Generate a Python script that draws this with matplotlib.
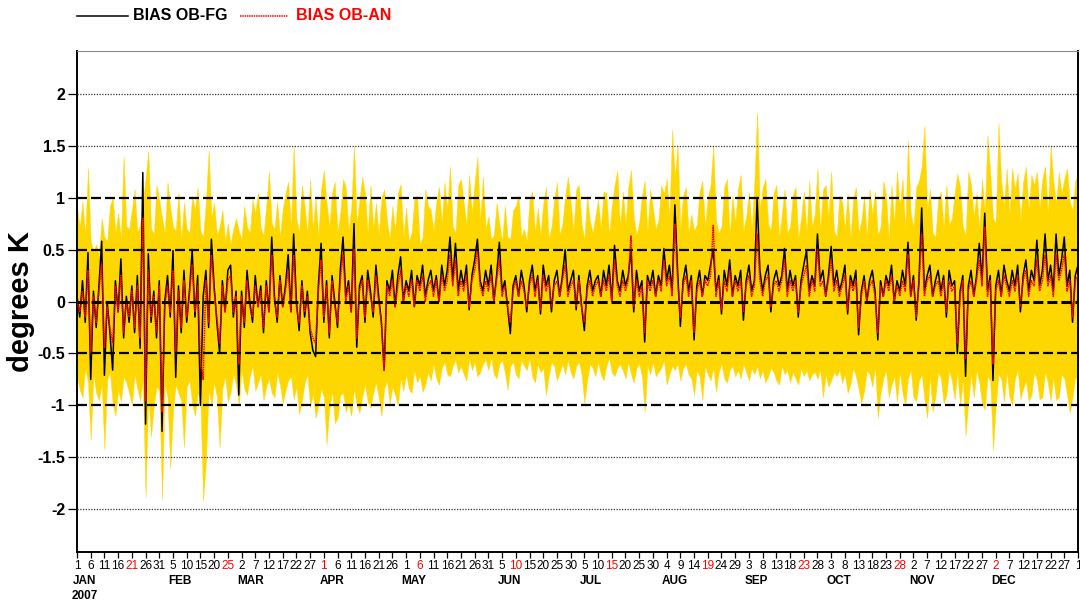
"""Daily bias OB-FG / OB-AN with spread band, 2007."""
import numpy as np
import pandas as pd
import matplotlib
matplotlib.use("Agg")
import matplotlib.pyplot as plt
from matplotlib.lines import Line2D

plt.rcParams["font.family"] = ["Liberation Sans", "DejaVu Sans"]

START = "2007-01-01"

# daily values in hundredths of K, 1 Jan 2007 .. 1 Jan 2008, ten per row
BIAS_FG = [
    5, -15, 20, -20, 47, -75, 10, -25, 15, 58,
    -71, 0, -30, -66, 20, -10, 41, -35, 5, -20,
    15, -30, 25, -45, 124, -118, 46, -20, 10, -35,
    20, -125, 0, 25, -15, 49, -73, 15, -30, 30,
    -20, 10, 50, -15, 25, -100, 5, 30, -25, 60,
    15, -20, -50, 20, -10, 30, 35, -15, 10, -90,
    10, -25, 30, 0, -20, 25, -5, 15, -30, 20,
    -10, 62, 5, -20, 25, -5, 15, 45, -10, 65,
    0, -28, 20, -15, 10, -30, -47, -53, 15, 56,
    -20, 20, -35, 25, 0, -25, 30, 62, 5, 20,
    -10, 75, -44, 15, 25, -20, 30, 10, -15, 35,
    5, -20, -66, 20, 10, 30, -5, 25, 43, 0,
    20, 10, 30, -5, 25, 15, 35, 5, 20, 30,
    10, 25, 0, 35, 15, 30, 62, 20, 56, 10,
    30, 15, 35, -8, 25, 40, 60, 20, 10, 30,
    15, 35, 0, 25, 57, 10, 20, -5, -31, 15,
    25, 5, 30, 15, -10, 20, 35, 10, 25, -12,
    35, 15, 25, -10, 20, 30, 5, 25, 50, 10,
    20, 30, -8, 25, -5, -28, 15, 30, 10, 20,
    25, 5, 30, 15, 35, 0, 54, 20, 10, 30,
    15, 25, 50, -10, 30, 10, 20, -39, 25, 15,
    30, 5, 25, 15, 51, 20, 35, 10, 93, 30,
    -24, 20, 35, 10, 25, -37, 15, 30, 5, 25,
    20, 35, 50, 10, 25, -12, 30, 15, 40, 5,
    25, 15, 30, -18, 20, 35, 10, 20, 100, 30,
    10, 25, 35, -10, 20, 30, 15, 25, 51, 10,
    30, 15, 25, -15, 20, 35, 49, 10, 25, 15,
    65, 20, 30, 5, 25, 53, 15, 30, 10, 20,
    35, -12, 25, 15, 30, -32, 10, 25, 0, 20,
    30, 10, -37, 20, 5, 25, 15, 35, 0, 20,
    10, 30, 15, 57, 5, 25, -18, 20, 90, 10,
    25, 35, 5, 20, 30, 10, 25, -15, 30, 15,
    20, -50, 10, 25, -72, 15, 30, 5, 25, 56,
    20, 85, 10, 25, -76, 15, 30, 5, 35, 20,
    10, 30, 15, 35, -10, 25, 40, 10, 30, 20,
    59, 15, 30, 65, 20, 35, 10, 65, 25, 40,
    62, 15, 30, -20, 25, 35,
]

BIAS_AN = [
    0, -10, 10, -15, 30, -50, 5, -20, 10, 35,
    -45, -5, -25, -40, 15, -10, 25, -30, 0, -15,
    10, -25, 15, -35, 80, -95, 30, -15, 5, -30,
    15, -106, -5, 15, -10, 30, -50, 10, -25, 20,
    -15, 5, 35, -10, 15, -55, -75, 20, -20, 45,
    10, -15, -40, 15, -10, 20, 25, -10, 5, -60,
    5, -20, 20, -5, -15, 15, -5, 10, -25, 15,
    -10, 45, 0, -15, 20, -5, 10, 30, -10, 45,
    -5, -20, 15, -10, 5, -25, -35, -40, 10, 40,
    -15, 15, -30, 20, -5, -20, 20, 45, 0, 15,
    -10, 50, -35, 10, 20, -15, 20, 5, -10, 25,
    0, -20, -67, 15, 5, 20, -5, 15, 30, 0,
    15, 5, 20, -5, 20, 10, 25, 0, 15, 20,
    5, 20, 0, 25, 10, 20, 45, 15, 40, 5,
    20, 10, 25, -5, 20, 30, 50, 15, 5, 20,
    10, 25, 0, 20, 40, 5, 15, -5, -20, 10,
    20, 5, 20, 10, -5, 15, 25, 5, 20, -8,
    25, 10, 20, -5, 15, 20, 5, 20, 35, 5,
    15, 20, -5, 20, -5, -20, 10, 20, 5, 15,
    20, 5, 20, 10, 25, 0, 40, 15, 5, 20,
    10, 20, 63, -5, 20, 5, 15, -30, 20, 10,
    20, 5, 20, 10, 40, 15, 25, 5, 75, 20,
    -15, 15, 25, 5, 20, -30, 10, 20, 5, 20,
    15, 25, 73, 5, 20, -8, 20, 10, 30, 5,
    20, 10, 20, -10, 15, 25, 5, 15, 65, 20,
    5, 20, 25, -5, 15, 20, 10, 20, 40, 5,
    20, 10, 20, -10, 15, 25, 35, 5, 20, 10,
    50, 15, 20, 5, 20, 40, 10, 20, 5, 15,
    25, -8, 20, 10, 20, -25, 5, 20, 0, 15,
    20, 5, -30, 15, 5, 20, 10, 25, 0, 15,
    5, 20, 10, 45, 5, 20, -15, 15, 65, 5,
    20, 25, 5, 15, 20, 5, 20, -10, 20, 10,
    15, -40, 5, 20, -55, 10, 20, 5, 20, 40,
    15, 72, 5, 20, -60, 10, 20, 5, 25, 15,
    5, 20, 10, 25, -5, 20, 30, 5, 20, 15,
    40, 10, 20, 45, 15, 25, 5, 45, 20, 30,
    45, 10, 20, -15, 20, 25,
]

# upper / lower edge of the yellow spread band
SPREAD_HI = [
    90, 72, 96, 64, 128, 58, 48, 55, 45, 80,
    62, 58, 92, 100, 66, 85, 60, 140, 72, 70,
    88, 108, 66, 74, 95, 118, 145, 70, 65, 112,
    98, 80, 66, 115, 90, 72, 68, 105, 60, 95,
    70, 66, 102, 88, 110, 68, 62, 96, 145, 82,
    95, 64, 72, 88, 58, 75, 55, 70, 80, 68,
    60, 92, 72, 66, 98, 85, 105, 70, 64, 92,
    125, 75, 70, 96, 62, 88, 104, 115, 72, 150,
    80, 66, 112, 92, 65, 118, 70, 100, 62, 108,
    126, 95, 72, 105, 115, 66, 85, 118, 110, 68,
    90, 150, 75, 98, 120, 104, 66, 112, 70, 95,
    64, 100, 108, 78, 60, 92, 68, 104, 113, 62,
    90, 58, 66, 98, 102, 55, 62, 108, 92, 88,
    68, 96, 110, 75, 115, 88, 130, 72, 66, 112,
    118, 95, 74, 122, 85, 115, 139, 78, 120, 70,
    82, 60, 64, 95, 75, 58, 92, 62, 60, 88,
    92, 102, 62, 70, 58, 98, 106, 66, 90, 64,
    94, 110, 60, 72, 98, 115, 64, 75, 102, 120,
    96, 68, 108, 112, 74, 60, 102, 78, 66, 82,
    98, 70, 106, 104, 64, 92, 112, 126, 72, 106,
    75, 110, 126, 82, 64, 76, 102, 116, 66, 108,
    90, 70, 78, 112, 104, 118, 80, 165, 120, 150,
    70, 102, 110, 66, 84, 68, 74, 106, 116, 72,
    100, 112, 150, 78, 66, 72, 110, 118, 64, 102,
    76, 108, 122, 68, 82, 105, 70, 115, 182, 88,
    110, 118, 75, 68, 104, 112, 62, 84, 108, 66,
    72, 102, 110, 60, 80, 106, 66, 116, 72, 84,
    128, 70, 108, 112, 82, 125, 68, 62, 102, 96,
    70, 104, 60, 98, 110, 66, 78, 102, 62, 108,
    84, 106, 64, 72, 116, 102, 60, 112, 76, 125,
    92, 118, 70, 155, 84, 72, 110, 116, 130, 169,
    88, 108, 66, 62, 98, 106, 70, 112, 74, 80,
    104, 123, 110, 72, 64, 125, 112, 82, 104, 70,
    118, 86, 160, 124, 80, 76, 172, 116, 92, 128,
    84, 128, 108, 124, 78, 115, 130, 88, 122, 112,
    125, 90, 118, 130, 84, 150, 116, 94, 124, 104,
    118, 128, 96, 88, 116, 122,
]

SPREAD_LO = [
    -72, -85, -92, -64, -78, -133, -70, -88, -95, -80,
    -142, -75, -68, -98, -110, -85, -96, -72, -78, -88,
    -100, -70, -84, -95, -76, -188, -90, -130, -100, -82,
    -86, -190, -78, -92, -160, -105, -80, -88, -95, -140,
    -82, -76, -98, -110, -88, -94, -192, -155, -85, -100,
    -78, -92, -140, -84, -72, -96, -88, -70, -80, -100,
    -66, -84, -90, -72, -62, -86, -78, -70, -95, -82,
    -74, -88, -92, -68, -80, -98, -86, -76, -72, -94,
    -82, -108, -96, -78, -70, -102, -88, -112, -100, -84,
    -92, -137, -104, -86, -117, -112, -90, -88, -106, -98,
    -110, -84, -100, -107, -92, -80, -96, -102, -88, -78,
    -92, -110, -84, -76, -98, -82, -90, -100, -74, -86,
    -70, -84, -88, -66, -78, -72, -87, -80, -68, -76,
    -60, -74, -80, -64, -58, -70, -72, -62, -56, -68,
    -62, -70, -76, -54, -66, -58, -72, -68, -60, -56,
    -66, -54, -70, -74, -60, -56, -68, -85, -62, -58,
    -70, -74, -56, -62, -66, -54, -72, -78, -60, -68,
    -64, -90, -72, -58, -62, -76, -68, -60, -70, -56,
    -68, -74, -62, -58, -70, -98, -76, -60, -64, -72,
    -58, -70, -76, -62, -54, -68, -72, -64, -60, -66,
    -74, -58, -70, -78, -64, -60, -72, -106, -62, -70,
    -58, -72, -68, -64, -56, -80, -70, -62, -66, -60,
    -76, -64, -60, -70, -74, -90, -66, -72, -95, -62,
    -70, -76, -64, -87, -68, -60, -74, -78, -66, -62,
    -72, -66, -74, -60, -68, -76, -64, -70, -62, -74,
    -66, -78, -72, -64, -68, -76, -80, -62, -70, -66,
    -78, -68, -74, -80, -64, -72, -66, -76, -70, -68,
    -74, -66, -92, -70, -82, -76, -68, -72, -66, -78,
    -70, -88, -80, -64, -72, -84, -98, -86, -66, -70,
    -82, -62, -112, -88, -74, -66, -92, -80, -72, -96,
    -68, -88, -100, -74, -66, -92, -96, -76, -70, -94,
    -112, -72, -106, -92, -68, -74, -98, -90, -66, -76,
    -94, -68, -100, -76, -129, -96, -70, -92, -66, -78,
    -98, -104, -72, -76, -143, -100, -70, -74, -96, -68,
    -92, -100, -74, -66, -94, -84, -76, -96, -90, -68,
    -76, -94, -92, -68, -78, -96, -72, -95, -92, -70,
    -74, -90, -107, -92, -72, -80,
]

RED_DATES = ["2007-01-21", "2007-02-25", "2007-04-01", "2007-05-06", "2007-06-10",
             "2007-07-15", "2007-08-19", "2007-09-23", "2007-10-28", "2007-12-02"]
Y_TICKS = [-2, -1.5, -1, -0.5, 0, 0.5, 1, 1.5, 2]
Y_LABELS = ["-2", "-1.5", "-1", "-0.5", "0", "0.5", "1", "1.5", "2"]

fg = np.array(BIAS_FG) / 100.0
an = np.array(BIAS_AN) / 100.0
hi = np.array(SPREAD_HI) / 100.0
lo = np.array(SPREAD_LO) / 100.0
days = np.arange(len(fg))
dates = pd.date_range(START, periods=len(fg), freq="D")

fig = plt.figure(figsize=(10.8, 6.08), dpi=100)
ax = fig.add_axes([77 / 1080, 1 - 552 / 608, 1001 / 1080, 501 / 608])

ax.fill_between(days, lo, hi, facecolor="#FFD700", edgecolor="#FFD700", lw=0.3, zorder=1)
ax.plot(days, fg, color="black", lw=1.1, zorder=3)
ax.plot(days, an, color="#FF0000", lw=1.1, ls=(0, (1, 0.5)), zorder=4)

for v in [-2, -1.5, 1.5, 2]:
    ax.axhline(v, color="#333333", lw=0.9, ls=(0, (1, 1.2)), zorder=5)
for v in [-1, -0.5, 0.5, 1]:
    ax.axhline(v, color="black", lw=1.6, ls=(0, (4.5, 1.8)), zorder=5)
ax.axhline(0, color="black", lw=2.2, ls=(0, (3.3, 1.3)), zorder=5)

ax.set_xlim(0, 365)
ax.set_ylim(-2.41, 2.41)
ax.set_yticks(Y_TICKS)
ax.set_yticklabels(Y_LABELS, fontsize=11.5, fontweight="bold")
ax.tick_params(axis="y", length=6.5, width=0.9, pad=2)

tick_days = np.arange(0, 366, 5)
ax.set_xticks(tick_days)
ax.set_xticklabels([str(dates[d].day) for d in tick_days], fontsize=8.5)
ax.tick_params(axis="x", length=4.5, width=0.9, pad=1)
red = set(pd.to_datetime(RED_DATES))
for d, lab in zip(tick_days, ax.get_xticklabels()):
    if dates[d] in red:
        lab.set_color("#FF0000")

prev = None
for d in tick_days:
    m = dates[d].month
    if m != prev and d < 365:
        ax.annotate(dates[d].strftime("%b").upper(), xy=(d, 0),
                    xycoords=("data", "axes fraction"), xytext=(-3.3, -21),
                    textcoords="offset points", ha="left", va="center",
                    fontsize=8.5, fontweight="bold")
    prev = m
ax.annotate("2007", xy=(0, 0), xycoords=("data", "axes fraction"), xytext=(-3.6, -32),
            textcoords="offset points", ha="left", va="center",
            fontsize=8.5, fontweight="bold")

for side in ["left", "bottom", "right"]:
    ax.spines[side].set_linewidth(1.4)
ax.spines["top"].set_color("#888888")
ax.spines["top"].set_linewidth(0.8)

fig.text(21 / 1080, 1 - 302 / 608, "degrees K", rotation=90, ha="center", va="center",
         fontsize=21, fontweight="bold")

# legend drawn by hand above the axes
ly = 1 - 16 / 608
fig.add_artist(Line2D([77 / 1080, 128 / 1080], [ly, ly], color="black", lw=1.1))
fig.text(133 / 1080, ly, "BIAS OB-FG", ha="left", va="center", fontsize=11.5,
         fontweight="bold", color="black")
fig.add_artist(Line2D([240 / 1080, 288 / 1080], [ly, ly], color="#FF0000", lw=1.1,
                      ls=(0, (1, 0.5))))
fig.text(296 / 1080, ly, "BIAS OB-AN", ha="left", va="center", fontsize=11.5,
         fontweight="bold", color="#FF0000")

fig.savefig("out.png", dpi=100)
